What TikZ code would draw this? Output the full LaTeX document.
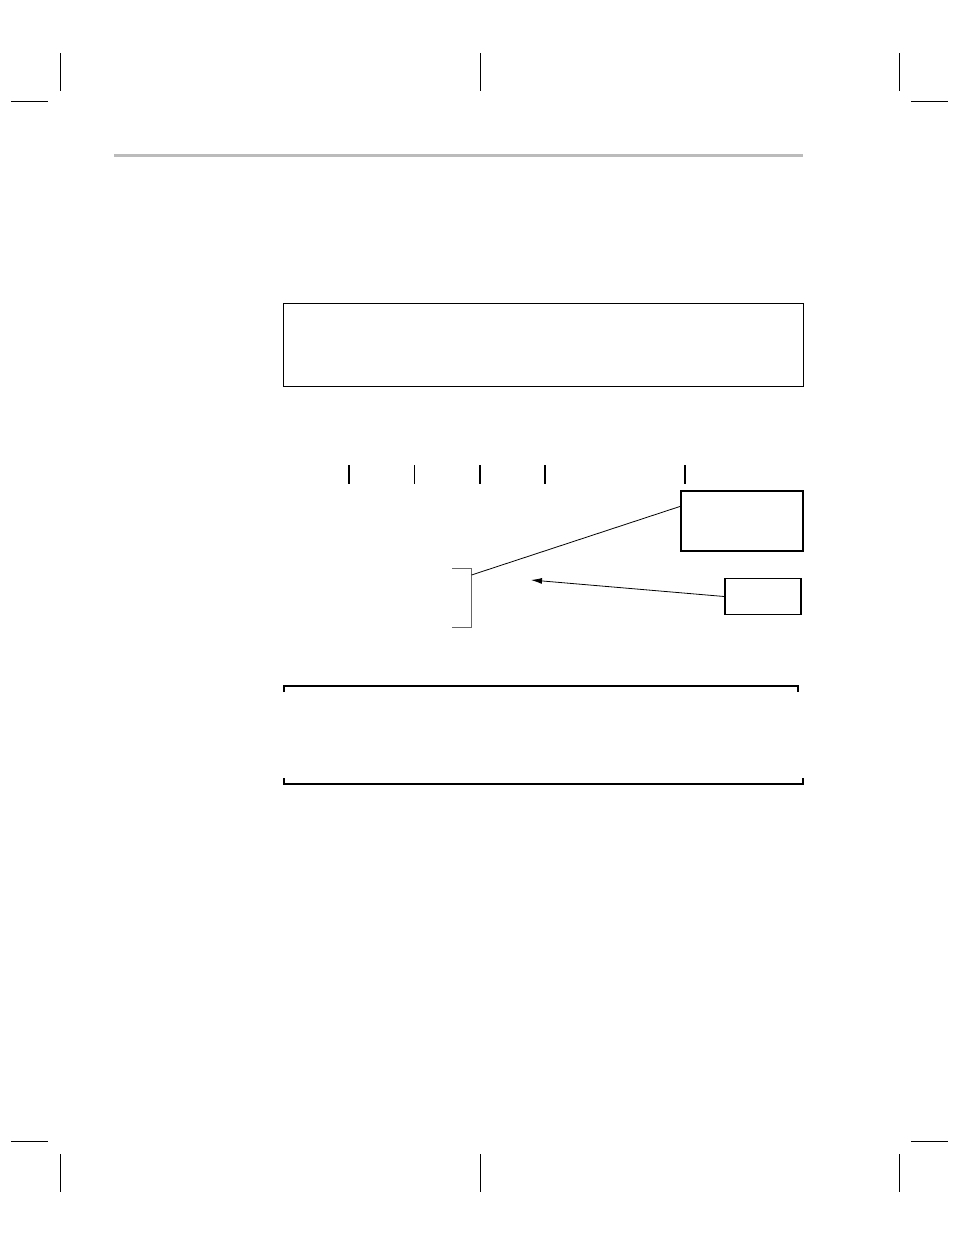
\documentclass[tikz,border=0pt]{standalone}
\usepackage{amsmath}
\usetikzlibrary{calc,arrows.meta}

\definecolor{rulegray}{RGB}{187,187,187}
\tikzset{
	cropmark/.style = {line width=1pt},
	emptybox/.style = {draw, line width=1.2pt, inner sep=0pt},
	tickmark/.style = {line width=1.4pt}
}

\begin{document}
\begin{tikzpicture}[x=1pt, y=-1pt]
	\useasboundingbox (0,0) rectangle (954,1235);
	% crop marks
	\foreach \cx in {60,480,899} {
		\draw[cropmark] (\cx,53)--(\cx,91);
		\draw[cropmark] (\cx,1154)--(\cx,1192);
	}
	\foreach \hx in {11,911} {
		\draw[cropmark] (\hx,101)--(\hx+37,101);
		\draw[cropmark] (\hx,1141)--(\hx+37,1141);
	}
	% header rule
	\draw[rulegray, line width=3pt] (114,155.5)--(803,155.5);
	% top frame
	\node[emptybox, line width=0.9pt, minimum width=520pt, minimum height=83pt] (topframe) at (543,344.5) {};
	% ticks
	\foreach \tx/\tw in {349/1.6, 414/1, 480/1.6, 545/1.6, 685/1.6}
		\draw[line width=\tw pt] (\tx,465)--(\tx,483.5);
	% boxes on the right
	\node[emptybox, minimum width=122pt, minimum height=60pt] (bigbox) at (742,521) {};
	\node[emptybox, line width=1.5pt, minimum width=76pt, minimum height=36pt] (smallbox) at (763,596.5) {};
	% bracket
	\draw[gray!80!black, line width=0.8pt] (452,568)--(471.5,568)--(471.5,627)--(452,627);
	\coordinate (brk) at (471.5,575);
	\coordinate (hit) at ($(bigbox.south west)!0.74!(bigbox.north west)$);
	\coordinate (tip) at (531,580);
	\draw[line width=0.8pt] (brk)--(hit);
	\draw[line width=0.8pt, -{Latex[length=11pt,width=6pt]}] (smallbox.west)--(tip);
	% bottom frame
	\draw[line width=1.3pt] (284,692)--(284,686)--(798,686)--(798,692);
	\draw[line width=2pt] (284,778)--(284,784)--(803,784)--(803,778);
\end{tikzpicture}
\end{document}
